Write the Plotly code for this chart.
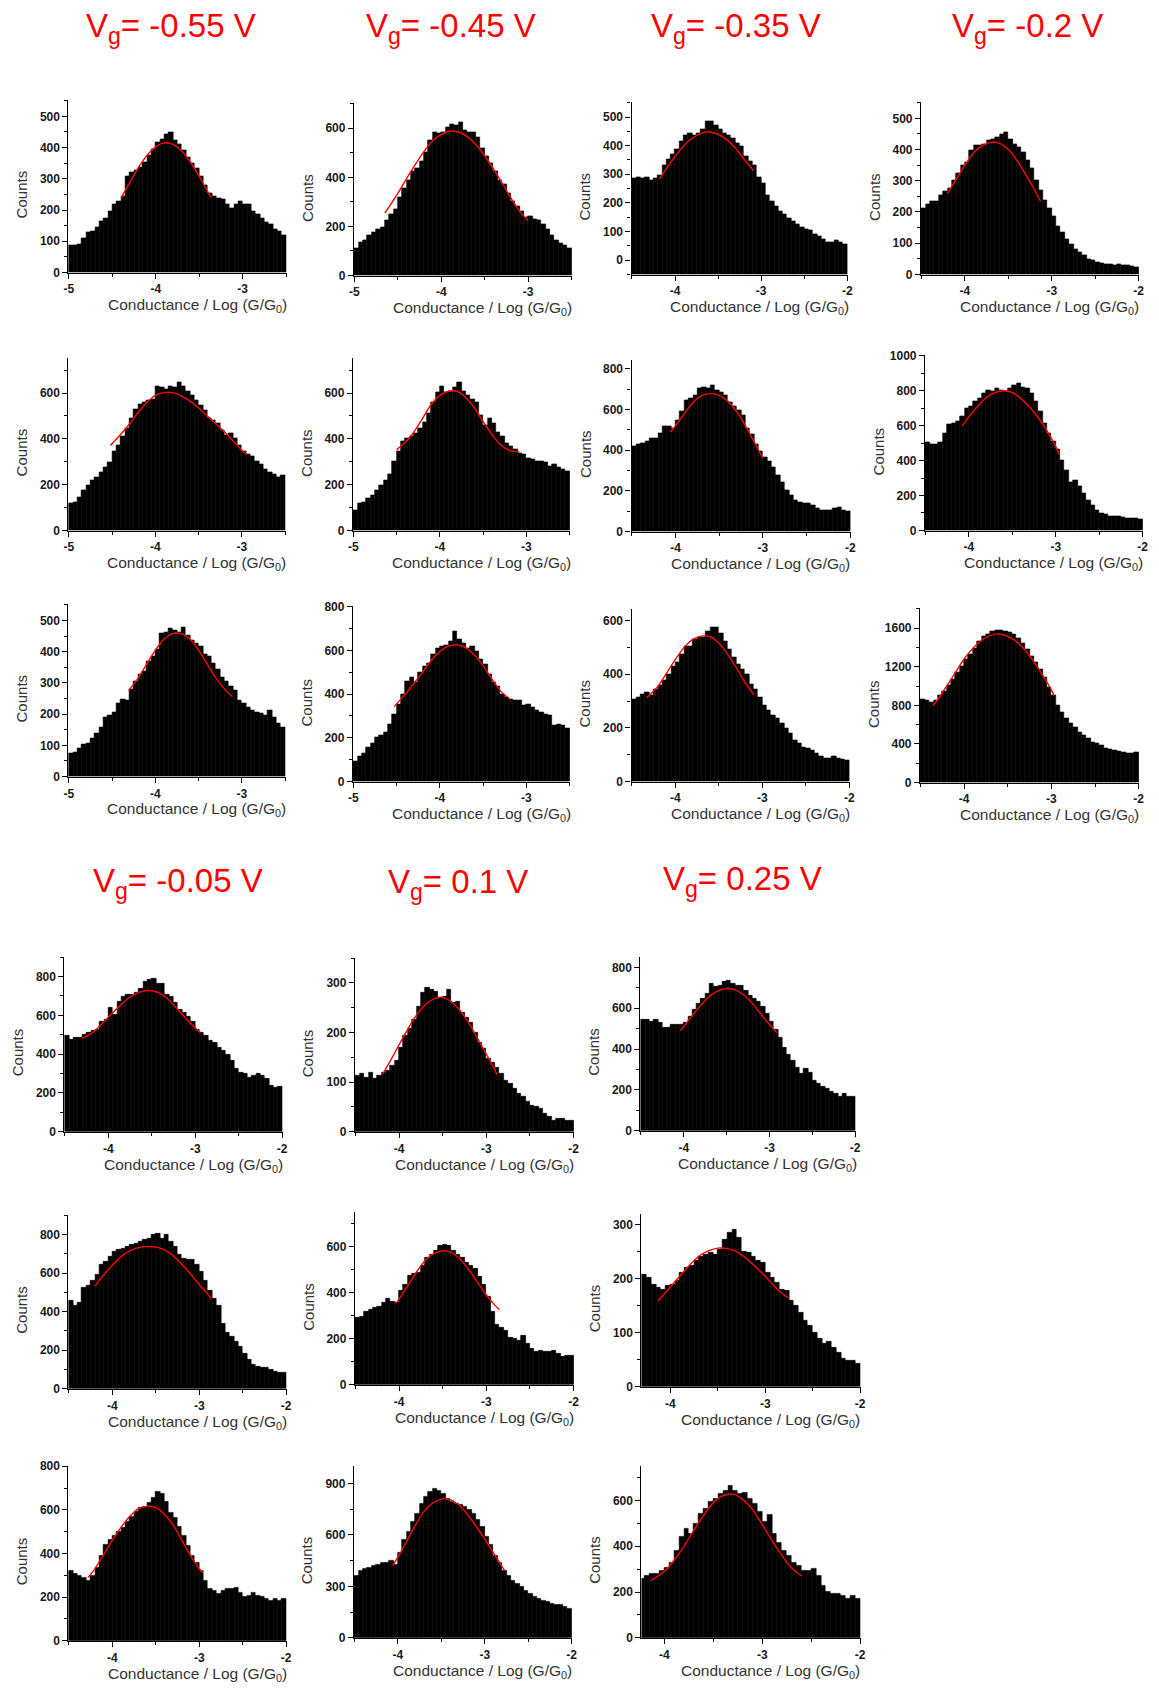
import plotly.graph_objects as go

# ======================= DATA =======================
gate_voltages = ["-0.55", "-0.45", "-0.35", "-0.2", "-0.05", "0.1", "0.25"]

bin_width = 0.05
# left edge of the first histogram bin of every panel (log G/G0)
bin_start = [-5.0, -5.0, -4.5, -4.5,
             -5.0, -5.0, -4.5, -4.5,
             -5.0, -5.0, -4.5, -4.5,
             -4.5, -4.5, -4.5,
             -4.5, -4.5, -4.3,
             -4.5, -4.5, -4.25]

counts_01 = [86, 86, 90, 110, 128, 133, 144, 165, 175, 196, 217, 228, 244, 307, 322, 328, 338, 354, 375, 396,
             417, 428, 443, 449, 422, 412, 391, 370, 349, 333, 307, 280, 254, 244, 238, 233, 217, 207, 217, 228,
             217, 217, 196, 186, 175, 160, 154, 139, 133, 118]
counts_02 = [110, 136, 143, 163, 176, 190, 197, 223, 250, 270, 317, 357, 390, 424, 437, 464, 504, 551, 584, 578,
             584, 604, 618, 611, 624, 591, 584, 584, 564, 517, 484, 457, 424, 390, 370, 337, 303, 283, 263, 237,
             243, 230, 223, 210, 190, 163, 143, 130, 123, 110]
counts_03 = [285, 290, 285, 288, 279, 285, 296, 330, 353, 370, 387, 416, 438, 444, 438, 444, 456, 484, 484, 473,
             456, 444, 438, 427, 410, 399, 364, 347, 330, 290, 268, 228, 205, 188, 171, 159, 148, 137, 125, 114,
             108, 103, 91, 85, 74, 63, 63, 68, 63, 57]
counts_04 = [213, 224, 234, 234, 255, 266, 276, 302, 324, 350, 360, 397, 413, 413, 418, 429, 434, 439, 450, 455,
             434, 418, 408, 392, 366, 339, 302, 271, 239, 213, 187, 155, 134, 113, 98, 82, 71, 61, 50, 45,
             40, 35, 32, 32, 29, 32, 29, 29, 27, 24]
counts_05 = [117, 124, 146, 174, 196, 217, 231, 253, 274, 296, 346, 374, 410, 446, 489, 531, 553, 560, 567, 574,
             631, 624, 617, 631, 624, 646, 631, 610, 589, 567, 546, 524, 489, 481, 467, 439, 417, 424, 403, 374,
             346, 331, 324, 303, 289, 267, 253, 246, 231, 239]
counts_06 = [89, 117, 124, 139, 153, 174, 196, 217, 246, 303, 346, 389, 403, 410, 424, 446, 474, 510, 560, 603,
             631, 603, 610, 624, 646, 610, 589, 574, 560, 503, 460, 489, 467, 431, 410, 381, 367, 353, 339, 331,
             317, 310, 303, 303, 296, 281, 289, 274, 267, 260]
counts_07 = [420, 428, 436, 444, 460, 460, 485, 517, 517, 509, 549, 590, 646, 654, 670, 703, 711, 703, 719, 695,
             687, 670, 638, 614, 598, 573, 509, 477, 428, 396, 363, 347, 315, 275, 242, 202, 178, 153, 145, 137,
             137, 129, 113, 105, 105, 105, 113, 121, 105, 97]
counts_08 = [503, 493, 493, 503, 559, 606, 615, 625, 653, 700, 709, 737, 756, 784, 803, 794, 812, 803, 794, 812,
             831, 840, 822, 812, 784, 737, 681, 615, 559, 512, 465, 400, 343, 278, 287, 250, 212, 174, 146, 118,
             99, 90, 81, 81, 81, 77, 71, 71, 71, 66]
counts_09 = [75, 78, 91, 102, 107, 123, 138, 159, 191, 196, 207, 233, 248, 243, 280, 306, 327, 338, 369, 385,
             406, 458, 463, 474, 469, 463, 479, 453, 437, 427, 416, 390, 385, 364, 343, 317, 306, 290, 275, 243,
             233, 222, 212, 206, 201, 196, 212, 191, 170, 159]
counts_10 = [91, 113, 128, 158, 174, 204, 211, 226, 264, 309, 355, 400, 460, 475, 453, 498, 528, 543, 581, 611,
             619, 626, 642, 687, 649, 634, 611, 619, 596, 558, 536, 491, 453, 438, 400, 385, 377, 370, 370, 347,
             355, 340, 325, 317, 309, 302, 257, 264, 257, 242]
counts_11 = [308, 314, 326, 333, 320, 345, 357, 376, 400, 431, 443, 474, 505, 505, 530, 536, 536, 560, 573, 573,
             554, 523, 493, 462, 437, 419, 400, 363, 345, 314, 283, 265, 246, 234, 216, 197, 179, 154, 142, 129,
             123, 117, 105, 92, 86, 86, 92, 86, 83, 80]
counts_12 = [865, 848, 831, 848, 899, 950, 1002, 1070, 1138, 1207, 1275, 1326, 1395, 1463, 1515, 1532, 1566, 1573,
             1573, 1566, 1559, 1532, 1497, 1446, 1378, 1309, 1241, 1173, 1087, 985, 899, 797, 728, 660, 609, 574,
             523, 489, 455, 421, 403, 386, 352, 342, 335, 318, 308, 301, 301, 308]
counts_13 = [494, 477, 485, 485, 502, 511, 519, 528, 570, 579, 638, 604, 672, 698, 706, 706, 715, 740, 774, 783,
             791, 766, 766, 706, 698, 664, 630, 613, 596, 570, 528, 511, 494, 468, 460, 434, 417, 400, 366, 323,
             306, 298, 281, 289, 298, 289, 272, 238, 230, 233]
counts_14 = [113, 117, 110, 120, 107, 113, 120, 123, 133, 143, 170, 193, 207, 227, 253, 280, 290, 287, 283, 270,
             273, 287, 260, 263, 240, 230, 220, 200, 180, 167, 147, 140, 130, 117, 103, 97, 87, 77, 70, 60,
             53, 50, 47, 37, 30, 23, 27, 27, 23, 23]
counts_15 = [543, 543, 535, 543, 527, 503, 503, 519, 519, 519, 527, 559, 591, 623, 647, 671, 720, 704, 712, 728,
             736, 720, 712, 712, 688, 663, 647, 631, 607, 575, 535, 495, 455, 406, 374, 342, 310, 278, 302, 286,
             246, 230, 214, 206, 190, 182, 165, 182, 165, 165]
counts_16 = [456, 431, 448, 524, 533, 558, 592, 643, 660, 686, 711, 720, 728, 737, 745, 754, 762, 771, 780, 797,
             805, 780, 797, 762, 737, 694, 677, 669, 669, 643, 609, 558, 507, 465, 431, 340, 290, 269, 243, 218,
             184, 150, 124, 116, 111, 107, 99, 90, 82, 82]
counts_17 = [291, 298, 319, 326, 333, 340, 355, 376, 362, 355, 411, 433, 475, 482, 489, 518, 553, 567, 582, 603,
             610, 603, 582, 567, 553, 532, 518, 504, 468, 433, 383, 319, 262, 248, 234, 206, 199, 191, 213, 177,
             156, 142, 149, 142, 142, 149, 135, 121, 128, 125]
counts_18 = [208, 202, 190, 184, 181, 187, 190, 196, 211, 220, 224, 233, 242, 245, 248, 245, 254, 273, 285, 291,
             276, 251, 248, 242, 233, 230, 211, 202, 193, 181, 178, 159, 150, 138, 122, 113, 101, 89, 80, 83,
             73, 64, 52, 49, 49, 43]
counts_19 = [321, 306, 298, 290, 275, 298, 336, 389, 442, 464, 480, 502, 517, 548, 570, 593, 608, 616, 631, 654,
             684, 676, 638, 585, 563, 525, 480, 434, 389, 359, 321, 275, 238, 230, 215, 230, 238, 238, 245, 222,
             200, 207, 222, 207, 200, 192, 185, 192, 185, 192]
counts_20 = [363, 391, 401, 410, 420, 429, 439, 439, 448, 429, 496, 573, 620, 677, 725, 782, 821, 849, 868, 859,
             840, 811, 792, 782, 773, 763, 744, 725, 687, 649, 592, 544, 477, 439, 391, 363, 334, 315, 296, 277,
             258, 239, 229, 219, 210, 200, 191, 191, 181, 172]
counts_21 = [257, 271, 279, 279, 293, 307, 329, 379, 443, 479, 457, 500, 543, 564, 593, 607, 629, 643, 664, 643,
             629, 636, 607, 586, 550, 507, 536, 457, 414, 379, 357, 329, 314, 293, 293, 300, 271, 229, 200, 193,
             193, 186, 171, 186, 171]

# Gaussian fit curves (red)
fit_x_01 = [-4.4, -4.3, -4.2, -4.1, -4.0, -3.9, -3.8, -3.7, -3.6, -3.5, -3.4, -3.36]
fit_y_01 = [238, 288, 336, 375, 403, 415, 410, 388, 353, 308, 258, 240]
fit_x_02 = [-4.65, -4.5, -4.4, -4.3, -4.2, -4.1, -4.0, -3.9, -3.8, -3.7, -3.6, -3.5, -3.4, -3.3, -3.2, -3.1, -3.0]
fit_y_02 = [254, 335, 395, 452, 505, 548, 575, 588, 585, 566, 533, 488, 434, 376, 316, 262, 223]
fit_x_03 = [-4.18, -4.1, -4.0, -3.9, -3.8, -3.7, -3.6, -3.5, -3.4, -3.3, -3.2, -3.09]
fit_y_03 = [285, 320, 362, 399, 426, 443, 448, 440, 421, 392, 354, 313]
fit_x_04 = [-4.2, -4.1, -4.0, -3.9, -3.8, -3.7, -3.6, -3.5, -3.4, -3.3, -3.2, -3.13]
fit_y_04 = [260, 305, 350, 390, 413, 423, 420, 400, 365, 320, 272, 234]
fit_x_05 = [-4.52, -4.4, -4.3, -4.2, -4.1, -4.0, -3.9, -3.8, -3.7, -3.6, -3.5, -3.4, -3.3, -3.2, -3.1, -3.0, -2.94]
fit_y_05 = [371, 420, 465, 515, 558, 590, 602, 602, 588, 565, 535, 500, 465, 430, 390, 350, 331]
fit_x_06 = [-4.5, -4.4, -4.3, -4.2, -4.1, -4.0, -3.9, -3.8, -3.7, -3.6, -3.5, -3.4, -3.3, -3.2, -3.08]
fit_y_06 = [353, 385, 430, 490, 550, 590, 608, 608, 580, 535, 475, 420, 375, 350, 343]
fit_x_07 = [-4.06, -4.0, -3.9, -3.8, -3.7, -3.6, -3.5, -3.4, -3.3, -3.2, -3.1, -3.0]
fit_y_07 = [489, 520, 580, 635, 668, 678, 670, 640, 590, 520, 440, 360]
fit_x_08 = [-4.08, -4.0, -3.9, -3.8, -3.7, -3.6, -3.5, -3.4, -3.3, -3.2, -3.1, -3.0, -2.96]
fit_y_08 = [597, 650, 710, 760, 790, 800, 790, 755, 705, 645, 570, 480, 437]
fit_x_09 = [-4.31, -4.2, -4.1, -4.0, -3.9, -3.8, -3.7, -3.6, -3.5, -3.4, -3.3, -3.2, -3.11]
fit_y_09 = [275, 315, 360, 405, 440, 458, 458, 440, 405, 360, 315, 280, 256]
fit_x_10 = [-4.53, -4.4, -4.3, -4.2, -4.1, -4.0, -3.9, -3.8, -3.7, -3.6, -3.5, -3.4, -3.3, -3.19]
fit_y_10 = [343, 400, 450, 500, 555, 595, 620, 626, 612, 580, 530, 470, 415, 377]
fit_x_11 = [-4.33, -4.2, -4.1, -4.0, -3.9, -3.8, -3.7, -3.6, -3.5, -3.4, -3.3, -3.2, -3.1]
fit_y_11 = [312, 355, 405, 455, 500, 530, 542, 540, 515, 475, 425, 370, 324]
fit_x_12 = [-4.36, -4.3, -4.2, -4.1, -4.0, -3.9, -3.8, -3.7, -3.6, -3.5, -3.4, -3.3, -3.2, -3.1, -3.0, -2.97]
fit_y_12 = [797, 860, 1000, 1140, 1280, 1390, 1475, 1525, 1540, 1515, 1460, 1370, 1250, 1110, 960, 900]
fit_x_13 = [-4.3, -4.2, -4.1, -4.0, -3.9, -3.8, -3.7, -3.6, -3.5, -3.4, -3.3, -3.2, -3.1, -3.0, -2.94]
fit_y_13 = [482, 505, 545, 590, 635, 678, 708, 725, 727, 712, 678, 630, 580, 535, 511]
fit_x_14 = [-4.19, -4.1, -4.0, -3.9, -3.8, -3.7, -3.6, -3.5, -3.4, -3.3, -3.2, -3.1, -3.0, -2.9, -2.88]
fit_y_14 = [115, 143, 175, 207, 235, 256, 268, 271, 262, 244, 219, 188, 156, 124, 115]
fit_x_15 = [-4.04, -4.0, -3.9, -3.8, -3.7, -3.6, -3.5, -3.4, -3.3, -3.2, -3.1, -3.0, -2.91]
fit_y_15 = [490, 510, 565, 615, 658, 685, 696, 690, 665, 625, 570, 520, 479]
fit_x_16 = [-4.2, -4.1, -4.0, -3.9, -3.8, -3.7, -3.6, -3.5, -3.4, -3.3, -3.2, -3.1, -3.0, -2.9, -2.86]
fit_y_16 = [533, 590, 640, 685, 715, 732, 737, 735, 720, 690, 645, 595, 540, 490, 465]
fit_x_17 = [-4.03, -3.9, -3.8, -3.7, -3.6, -3.5, -3.4, -3.3, -3.2, -3.1, -3.0, -2.9, -2.85]
fit_y_17 = [355, 430, 490, 540, 570, 582, 575, 545, 500, 445, 390, 345, 326]
fit_x_18 = [-4.13, -4.0, -3.9, -3.8, -3.7, -3.6, -3.5, -3.4, -3.3, -3.2, -3.1, -3.0, -2.9, -2.8, -2.75]
fit_y_18 = [159, 185, 205, 225, 242, 252, 257, 256, 250, 238, 222, 205, 186, 170, 165]
fit_x_19 = [-4.28, -4.2, -4.1, -4.0, -3.9, -3.8, -3.7, -3.6, -3.5, -3.4, -3.3, -3.2, -3.1, -3.0, -2.96]
fit_y_19 = [290, 330, 395, 460, 520, 570, 605, 616, 610, 580, 530, 460, 390, 330, 313]
fit_x_20 = [-4.06, -4.0, -3.9, -3.8, -3.7, -3.6, -3.5, -3.4, -3.3, -3.2, -3.1, -3.0, -2.9, -2.8, -2.77]
fit_y_20 = [420, 470, 560, 655, 735, 785, 808, 805, 775, 720, 650, 575, 495, 415, 391]
fit_x_21 = [-4.14, -4.0, -3.9, -3.8, -3.7, -3.6, -3.5, -3.4, -3.3, -3.2, -3.1, -3.0, -2.9, -2.8, -2.7, -2.6]
fit_y_21 = [250, 290, 340, 400, 470, 535, 590, 622, 628, 605, 560, 495, 425, 360, 305, 271]

# axis ranges and tick steps per panel
x_ranges = [[-5, -2.5], [-5, -2.5], [-4.5, -2], [-4.5, -2],
            [-5, -2.5], [-5, -2.5], [-4.5, -2], [-4.5, -2],
            [-5, -2.5], [-5, -2.5], [-4.5, -2], [-4.5, -2],
            [-4.5, -2], [-4.5, -2], [-4.5, -2],
            [-4.5, -2], [-4.5, -2], [-4.3, -2],
            [-4.5, -2], [-4.5, -2], [-4.23, -2]]
y_ranges = [[0, 550], [0, 700], [-50, 550], [0, 550],
            [0, 750], [0, 750], [0, 840], [0, 1000],
            [0, 550], [0, 800], [0, 640], [0, 1800],
            [0, 900], [0, 350], [0, 850],
            [0, 900], [0, 750], [0, 320],
            [0, 800], [0, 1000], [0, 750]]
y_tick_steps = [100, 200, 100, 100,
                200, 200, 200, 200,
                100, 200, 200, 400,
                200, 100, 200,
                200, 200, 100,
                200, 300, 200]
x_tick_candidates = [-5, -4, -3, -2]

x_title = "Conductance / Log (G/G<sub>0</sub>)"
y_title = "Counts"

all_counts = [counts_01, counts_02, counts_03, counts_04, counts_05, counts_06, counts_07,
              counts_08, counts_09, counts_10, counts_11, counts_12, counts_13, counts_14,
              counts_15, counts_16, counts_17, counts_18, counts_19, counts_20, counts_21]
all_fit_x = [fit_x_01, fit_x_02, fit_x_03, fit_x_04, fit_x_05, fit_x_06, fit_x_07, fit_x_08, fit_x_09,
             fit_x_10, fit_x_11, fit_x_12, fit_x_13, fit_x_14, fit_x_15, fit_x_16, fit_x_17, fit_x_18,
             fit_x_19, fit_x_20, fit_x_21]
all_fit_y = [fit_y_01, fit_y_02, fit_y_03, fit_y_04, fit_y_05, fit_y_06, fit_y_07, fit_y_08, fit_y_09,
             fit_y_10, fit_y_11, fit_y_12, fit_y_13, fit_y_14, fit_y_15, fit_y_16, fit_y_17, fit_y_18,
             fit_y_19, fit_y_20, fit_y_21]

# ======================= LAYOUT (pixels) =======================
W, H = 1159, 1690
# plot-area boxes: left, right, top, bottom
boxes = [(64, 284, 95, 269), (352, 572, 98, 272), (632, 850, 97, 271), (924, 1144, 97, 271),
         (64, 283, 355, 529), (351, 570, 355, 529), (632, 853, 357, 530), (928, 1148, 352, 529),
         (64, 283, 603, 777), (351, 570, 605, 782), (632, 852, 608, 782), (923, 1144, 607, 783),
         (60, 280, 958, 1135), (353, 574, 959, 1135), (641, 858, 958, 1134),
         (64, 284, 1218, 1394), (353, 574, 1215, 1390), (642, 863, 1217, 1392),
         (64, 284, 1471, 1648), (352, 572, 1471, 1645), (642, 863, 1471, 1645)]
counts_dx = [47] * 21
title_pos = [(167, 22), (450, 22), (737, 22), (1031, 22), (175, 884), (457, 885), (744, 882)]

FONT = "Liberation Sans, Arial, sans-serif"

fig = go.Figure()
layout_axes = {}
annotations = []

for i in range(21):
    n = i + 1
    xa = "x" if n == 1 else f"x{n}"
    ya = "y" if n == 1 else f"y{n}"
    xkey = "xaxis" if n == 1 else f"xaxis{n}"
    ykey = "yaxis" if n == 1 else f"yaxis{n}"
    ymin, ymax = y_ranges[i]
    counts = all_counts[i]
    xs = [bin_start[i] + bin_width * (k + 0.5) for k in range(len(counts))]
    fig.add_trace(go.Bar(
        x=xs, y=[c - ymin for c in counts], base=ymin, width=bin_width,
        marker=dict(color="black", line=dict(color="black", width=0.6)),
        xaxis=xa, yaxis=ya, showlegend=False, hoverinfo="skip"))
    fig.add_trace(go.Scatter(
        x=all_fit_x[i], y=all_fit_y[i], mode="lines",
        line=dict(color="#ff0000", width=1.4, shape="spline", smoothing=0.8),
        xaxis=xa, yaxis=ya, showlegend=False, hoverinfo="skip"))

    l, r, t, b = boxes[i]
    lo, hi = x_ranges[i]
    xspan = hi - lo
    yspan = ymax - ymin
    xt = [v for v in x_tick_candidates if lo - 1e-6 <= v <= hi + 1e-6]
    step = y_tick_steps[i]
    yt = list(range(0, int(ymax) + 1, step))
    tickfont = dict(family=FONT, size=12, color="#1a1a1a", weight="bold")
    layout_axes[xkey] = dict(
        domain=[l / W, r / W], anchor=ya,
        range=[lo - 0.002 * xspan, hi + 0.002 * xspan], autorange=False,
        showline=True, linecolor="black", linewidth=1.2, mirror=False,
        ticks="outside", ticklen=5, tickwidth=1.2, tickcolor="black",
        tickmode="array", tickvals=xt, ticktext=[str(v) for v in xt],
        tickfont=tickfont, showgrid=False, zeroline=False, fixedrange=True,
        minor=dict(ticks="outside", ticklen=3, tickwidth=1, tickcolor="black",
                   tickmode="linear", tick0=0, dtick=0.5, showgrid=False))
    layout_axes[ykey] = dict(
        domain=[1 - b / H, 1 - t / H], anchor=xa,
        range=[ymin - 0.003 * yspan, ymax + 0.003 * yspan], autorange=False,
        showline=True, linecolor="black", linewidth=1.2, mirror=False,
        ticks="outside", ticklen=5, tickwidth=1.2, tickcolor="black",
        tickmode="array", tickvals=yt, ticktext=[str(v) for v in yt],
        tickfont=tickfont, showgrid=False, zeroline=False, fixedrange=True,
        minor=dict(ticks="outside", ticklen=3, tickwidth=1, tickcolor="black",
                   tickmode="linear", tick0=0, dtick=step / 2, showgrid=False))

    annotations.append(dict(
        text=y_title, textangle=-90, showarrow=False,
        xref="paper", yref="paper",
        x=(l - counts_dx[i]) / W, y=1 - ((t + b) / 2 + 8) / H,
        xanchor="center", yanchor="middle",
        font=dict(family=FONT, size=15, color="#333333")))
    annotations.append(dict(
        text=x_title, showarrow=False,
        xref="paper", yref="paper",
        x=((l + r) / 2 + 20) / W, y=1 - (b + 33) / H,
        xanchor="center", yanchor="middle",
        font=dict(family=FONT, size=15.5, color="#333333")))

for v, (px, py) in zip(gate_voltages, title_pos):
    annotations.append(dict(
        text=f"V<sub>g</sub>= {v} V", showarrow=False,
        xref="paper", yref="paper", x=px / W, y=1 - py / H,
        xanchor="center", yanchor="middle",
        font=dict(family=FONT, size=33, color="#ff0000")))

fig.update_layout(
    width=W, height=H, autosize=False,
    margin=dict(l=0, r=0, t=0, b=0),
    paper_bgcolor="white", plot_bgcolor="white",
    bargap=0, barmode="overlay",
    annotations=annotations,
    **layout_axes)

fig.write_html(
    "out.html",
    config=dict(displayModeBar=False),
    post_script="document.body.style.margin='0px';document.body.style.padding='0px';")
